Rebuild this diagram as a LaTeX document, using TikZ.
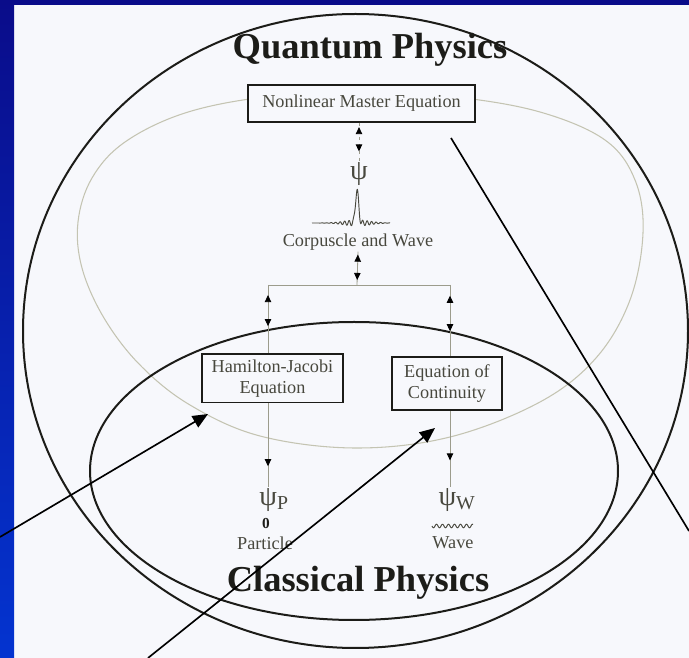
\documentclass[tikz,border=0pt]{standalone}
\usepackage{fontspec}
\setmainfont{Liberation Serif}
\usetikzlibrary{arrows.meta,decorations.markings,calc}
\definecolor{framenavy}{HTML}{0A0C8A}
\definecolor{frameblue}{HTML}{0434D0}
\definecolor{paper}{HTML}{F7F8FC}
\definecolor{inkdark}{HTML}{1C1C18}
\definecolor{linkgray}{HTML}{9C9C8C}
\definecolor{faintgray}{HTML}{C4C4B2}
\definecolor{labelgray}{HTML}{48483E}

\begin{document}
\begin{tikzpicture}[x=0.85pt,y=-0.85pt,
  title/.style={font=\fontsize{31}{31}\selectfont\bfseries,text=inkdark},
  eqbox/.style={draw=inkdark,line width=1.5pt,fill=paper,align=center,
             font=\fontsize{15.5}{18}\selectfont,text=labelgray,inner sep=2pt},
  lbl/.style={font=\fontsize{15.5}{18}\selectfont,text=labelgray,inner sep=1pt},
  psi/.style={font=\fontsize{24}{24}\selectfont,text=labelgray,inner sep=1pt},
  link/.style={draw=linkgray,line width=0.7pt},
  ring/.style={draw=inkdark,line width=1.7pt},
  pointer/.style={-{Triangle[length=13pt,width=11pt]},black,line width=1.4pt},
  tipdown/.tip={Triangle[color=black,length=6pt,width=5.5pt]},
  tipup/.tip={Triangle[color=black,length=6pt,width=5.5pt,reversed]},
  mark up/.style={postaction={decorate,decoration={markings,
             mark=at position #1 with {\arrow{tipup}}}}},
  mark down/.style={postaction={decorate,decoration={markings,
             mark=at position #1 with {\arrow{tipdown}}}}}
]
\useasboundingbox (0,0) rectangle (689,658);

%--- Slide frame ---
\fill[paper] (0,0) rectangle (689,658);
\shade[top color=framenavy,bottom color=frameblue] (0,0) rectangle (14,658);
\fill[framenavy] (0,0) rectangle (689,5);

% ---- RINGS ----
\draw[ring] (355.5,331) ellipse [x radius=332.5,y radius=317];
\draw[faintgray,line width=0.9pt] plot[smooth cycle,tension=0.6] coordinates {
  (643,233) (630,300) (596,358) (540,402) (450,437) (355,448)
  (260,436) (190,405) (140,365) (104,318) (82,268) (78,222) (92,178)
  (125,142) (185,113) (265,97) (360,92) (455,97) (540,112) (605,140)
  (635,180)};
\draw[ring] (354,471) ellipse [x radius=264,y radius=149];

% ---- TITLES ----
\node[title] (quantum)   at (370,50)  {Quantum Physics};
\node[title] (classical) at (358,583) {Classical Physics};

% ---- EQUATIONS ----
\node[eqbox,minimum width=193pt,minimum height=31pt] (master) at (361.5,103.5)
  {Nonlinear Master Equation};
\node[eqbox,minimum width=120pt,minimum height=41pt] (hamilton) at (272.5,378.5)
  {Hamilton-Jacobi\\Equation};
\node[eqbox,minimum width=93pt,minimum height=45pt] (continuity) at (447,383.5)
  {Equation of\\Continuity};

% ---- WAVE FUNCTIONS ----
\node[psi] (psi)  at (359,174) {ψ};
\node[lbl] (corpwave) at (358,242) {Corpuscle and Wave};
\node[psi] (psip) at (274,500) {ψ\textsubscript{P}};
\node[psi] (psiw) at (457,500) {ψ\textsubscript{W}};
\node[font=\fontsize{13}{13}\selectfont\bfseries,text=inkdark,inner sep=0pt]
  (dot) at (266,523) {0};
\node[lbl] (particle) at (265,543) {Particle};
\node[lbl] (wave)     at (453,543) {Wave};

% wave packet and plane wave
\draw[labelgray,line width=0.8pt] plot[domain=-45:33,samples=300]
  ({357+\x},{223-33*exp(-(\x/2.2)^2)-3*exp(-(\x/18)^2)*sin(\x*80)});
\draw[labelgray,line width=0.8pt] plot[domain=0:41,samples=120]
  ({432+\x},{526+1.8*sin(\x*60)});

% ---- CONNECTIONS ----
\coordinate (junc) at (357,285);
\coordinate (barL) at (268,285);
\coordinate (barR) at (450,285);
\draw[link,dashed,mark up=0.3,mark down=0.75] (master.south -| psi) -- (psi.north);
\draw[link,mark up=0.3,mark down=0.85] (corpwave.south) -- (junc);
\draw[link] (barL) -- (barR);
\draw[link,mark up=0.25,mark down=0.6] (barL) -- (barL |- hamilton.north);
\draw[link,mark up=0.25,mark down=0.65] (barR) -- (barR |- continuity.north);
\draw[link,mark down=0.75] (barL |- hamilton.south) -- (barL |- psip.north);
\draw[link,mark down=0.65] (barR |- continuity.south) -- (barR |- psiw.north);

% ---- POINTERS ----
\coordinate (leftA)  at (0,537);
\coordinate (tipA)   at (208,414);
\coordinate (leftB)  at (148,658);
\coordinate (tipB)   at (435,428);
\coordinate (startC) at (451,138);
\coordinate (rightC) at (689,531);
\draw[pointer] (leftA) -- (tipA);
\draw[pointer] (leftB) -- (tipB);
\draw[black,line width=1.4pt] (startC) -- (rightC);

\end{tikzpicture}
\end{document}
